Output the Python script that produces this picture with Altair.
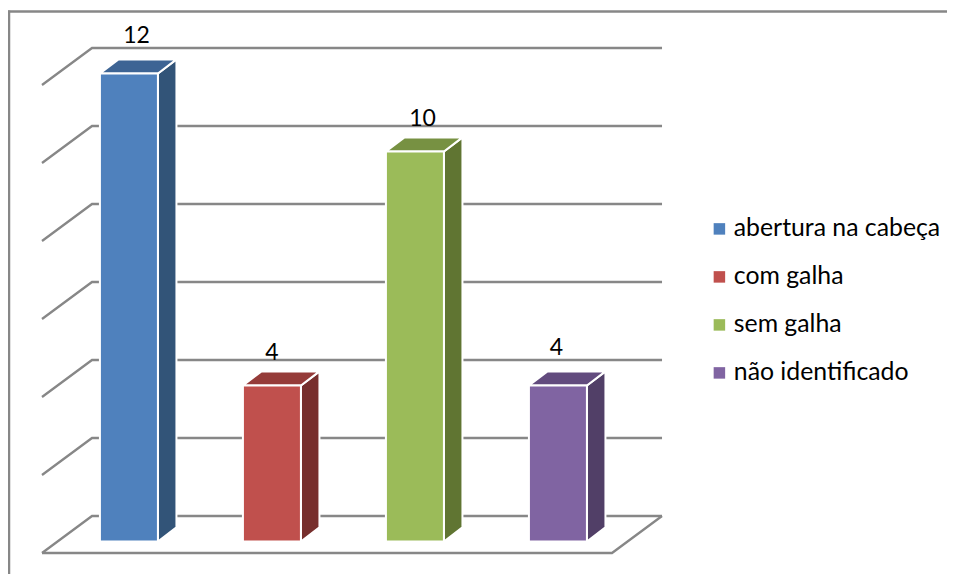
import altair as alt
import pandas as pd

categories = ["abertura na cabeça", "com galha", "sem galha", "não identificado"]
values = [12, 4, 10, 4]
front_colors = ["#4F81BD", "#C0504D", "#9BBB59", "#8064A2"]
top_colors = ["#3D6494", "#953B39", "#779142", "#624B7E"]
side_colors = ["#325478", "#772F2D", "#607532", "#513F67"]
label_lift = [0.78, 0.65, 0.65, 0.78]
label_shift = [0.0, -0.053, 0.0, -0.063]
grid_levels = [0, 2, 4, 6, 8, 10, 12]

# pixels per unit and 3-D projection, expressed in scale units
PX_X, PX_Y = 142.5, 39.0
W, H = 939, 566
X0, Y0 = 34.0, 545.0  # where (0, 0) of the floor falls in the plot
x_dom = [-X0 / PX_X, (W - X0) / PX_X]
y_dom = [(Y0 - H) / PX_Y, Y0 / PX_Y]
WALL_DX, WALL_DY = 0.351, 0.949
BAR_DX, BAR_DY = 0.130, 0.362
BAR_W = 0.407
BAR_BASE = 0.295
STEP, FIRST = 1.0035, 0.61
FLOOR_W = 4.0

xs = alt.Scale(domain=x_dom, range=[0, W], nice=False, zero=False)
ys = alt.Scale(domain=y_dom, range=[H, 0], nice=False, zero=False)
X = alt.X("x:Q", scale=xs, axis=None)
Y = alt.Y("y:Q", scale=ys, axis=None)

# walls and floor
lines = []
for v in grid_levels:
    pts = [(0, v), (WALL_DX, v + WALL_DY), (FLOOR_W + WALL_DX, v + WALL_DY)]
    lines += [{"g": f"g{v}", "i": i, "x": p[0], "y": p[1]} for i, p in enumerate(pts)]
floor_pts = [(0, 0), (FLOOR_W, 0), (FLOOR_W + WALL_DX, WALL_DY)]
lines += [{"g": "floor", "i": i, "x": p[0], "y": p[1]} for i, p in enumerate(floor_pts)]
grid = alt.Chart(pd.DataFrame(lines)).mark_line(color="#878787", strokeWidth=2.3).encode(
    x=X, y=Y, detail="g:N", order="i:Q"
)


def face(points, fill):
    df = pd.DataFrame(points, columns=["x", "y", "y2"])
    return alt.Chart(df).mark_area(fill=fill, stroke="white", strokeWidth=2, opacity=1).encode(
        x=X, y=Y, y2="y2:Q"
    )


front, face_layers, labels = [], [], []
for k, (c, v) in enumerate(zip(categories, values)):
    l = FIRST + k * STEP - BAR_W / 2
    r = l + BAR_W
    b = BAR_BASE
    t = b + v
    front.append({"cat": c, "x": l, "x2": r, "y": b, "y2": t})
    face_layers.append(face([(r, t, b), (r + BAR_DX, t + BAR_DY, b + BAR_DY)], side_colors[k]))
    face_layers.append(face([
        (l, t, t),
        (l + BAR_DX, t + BAR_DY, t),
        (r, t + BAR_DY, t),
        (r + BAR_DX, t + BAR_DY, t + BAR_DY),
    ], top_colors[k]))
    labels.append({"x": (l + r) / 2 + BAR_DX * 0.41 + label_shift[k], "y": t + label_lift[k], "t": str(v)})

front_layer = alt.Chart(pd.DataFrame(front)).mark_rect(stroke="white", strokeWidth=2).encode(
    x=X, x2="x2:Q", y=Y, y2="y2:Q",
    color=alt.Color(
        "cat:N",
        scale=alt.Scale(domain=categories, range=front_colors),
        sort=None,
        legend=alt.Legend(
            title=None, orient="none", legendX=699, legendY=208.5, padding=0,
            symbolType="square", symbolSize=132, symbolStrokeWidth=0,
            labelFont="Lato", labelFontSize=24.8, labelColor="#000000", labelOffset=2,
            rowPadding=22, labelLimit=300,
        ),
    ),
)

label_layer = alt.Chart(pd.DataFrame(labels)).mark_text(
    font="Lato", fontSize=23, color="#000000", baseline="alphabetic", align="center"
).encode(x=X, y=Y, text="t:N")

frame_top = alt.Chart(pd.DataFrame({"a": [0]})).mark_rule(color="#878787", strokeWidth=2.5).encode(
    x=alt.value(0), x2=alt.value(W), y=alt.value(3.5)
)
frame_left = alt.Chart(pd.DataFrame({"a": [0]})).mark_rule(color="#878787", strokeWidth=2.5).encode(
    y=alt.value(2.5), y2=alt.value(H), x=alt.value(1)
)

chart = alt.layer(frame_top, frame_left, grid, *face_layers, front_layer, label_layer).properties(
    width=W, height=H, padding=0, autosize=alt.AutoSizeParams(type="none"), background="white"
).configure_view(stroke=None)

chart.save("out.html", embed_options={"renderer": "svg", "actions": False})
